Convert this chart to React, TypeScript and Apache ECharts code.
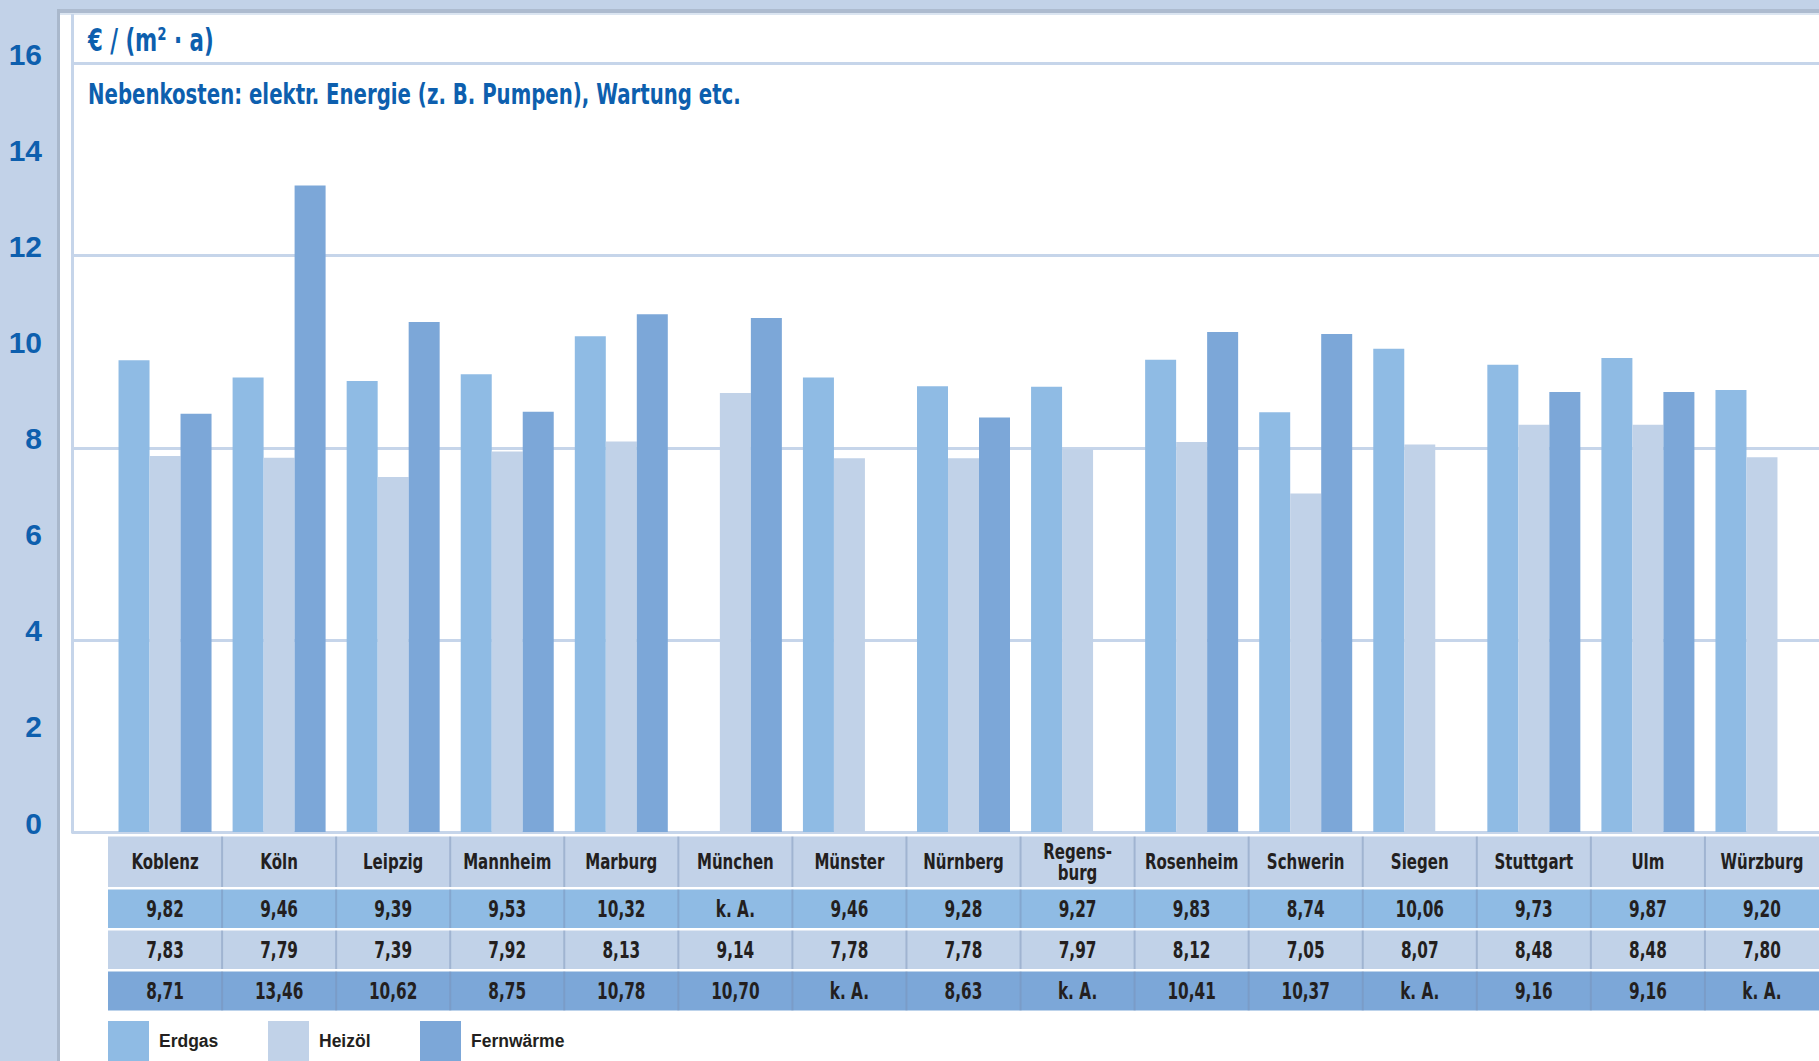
import React, { useEffect, useRef } from 'react';
import * as echarts from 'echarts';

// ---------- data ----------
const cities = ['Koblenz', 'Köln', 'Leipzig', 'Mannheim', 'Marburg', 'München', 'Münster', 'Nürnberg', 'Regensburg', 'Rosenheim', 'Schwerin', 'Siegen', 'Stuttgart', 'Ulm', 'Würzburg'];
const erdgas = [9.82, 9.46, 9.39, 9.53, 10.32, null, 9.46, 9.28, 9.27, 9.83, 8.74, 10.06, 9.73, 9.87, 9.2];
const heizoel = [7.83, 7.79, 7.39, 7.92, 8.13, 9.14, 7.78, 7.78, 7.97, 8.12, 7.05, 8.07, 8.48, 8.48, 7.8];
const fernwaerme = [8.71, 13.46, 10.62, 8.75, 10.78, 10.7, null, 8.63, null, 10.41, 10.37, null, 9.16, 9.16, null];
const seriesNames = ['Erdgas', 'Heizöl', 'Fernwärme'];
const unitTitle = '€ / (m² · a)';
const subtitle = 'Nebenkosten: elektr. Energie (z. B. Pumpen), Wartung etc.';
const missingLabel = 'k. A.';
const yMin = 0;
const yMax = 16;
const labelInterval = 2;
const gridInterval = 4;

// ---------- styles ----------
const W = 1819;
const H = 1061;
const COND = "'DejaVu Sans Condensed', 'DejaVu Sans', sans-serif";
const SANS = "'Liberation Sans', Arial, sans-serif";
const COLORS = ['#8fbbe4', '#c1d2e8', '#7ca7d8'];
const PANEL = '#c2d2e8';
const BLUE_TEXT = '#0d5fae';
const DARK_TEXT = '#231f20';
const GRID_LINE = '#c6d5ea';

const fmt = (v: number | null) => (v == null ? missingLabel : v.toFixed(2).replace('.', ','));
const headerLabel = (v: string) => (v === 'Regensburg' ? 'Regens-\nburg' : v);

export default function App() {
  const ref = useRef<HTMLDivElement>(null);

  useEffect(() => {
    if (!ref.current) return;
    const chart = echarts.init(ref.current, undefined, { renderer: 'svg' });
    const plotBottom = 832;
    const plotTop = 63.5;
    const rows = [erdgas, heizoel, fernwaerme];
    const legendLeft = [108, 268, 420];

    const option: any = {
      animation: false,
      backgroundColor: '#ffffff',
      grid: [
        { left: 108, width: 1715, top: plotTop, bottom: H - plotBottom },
        { left: 72, right: 0, top: plotTop, bottom: H - plotBottom },
      ],
      xAxis: [
        {
          type: 'category',
          gridIndex: 0,
          data: cities,
          axisLine: { show: false },
          axisTick: { show: false },
          axisLabel: { show: false },
        },
        { type: 'value', gridIndex: 1, show: false, min: 0, max: 1 },
      ],
      yAxis: [
        {
          type: 'value',
          gridIndex: 0,
          min: yMin,
          max: yMax,
          interval: labelInterval,
          splitLine: { show: false },
          axisLine: { show: false },
          axisTick: { show: false },
          axisLabel: {
            margin: 66,
            fontFamily: SANS,
            fontSize: 30,
            fontWeight: 'bold',
            color: BLUE_TEXT,
            verticalAlign: 'bottom',
            lineHeight: 18,
          },
        },
        {
          type: 'value',
          gridIndex: 1,
          min: yMin,
          max: yMax,
          interval: gridInterval,
          axisLabel: { show: false },
          axisLine: { show: false },
          axisTick: { show: false },
          splitLine: { show: true, lineStyle: { color: GRID_LINE, width: 3 } },
        },
      ],
      legend: seriesNames.map((n, i) => ({
        data: [n],
        left: legendLeft[i],
        top: 1021,
        itemWidth: 41,
        itemHeight: 40,
        icon: 'rect',
        padding: 0,
        selectedMode: false,
        textStyle: { fontFamily: SANS, fontSize: 17.5, fontWeight: 'bold', color: DARK_TEXT, padding: [0, 0, 0, 5] },
      })),
      series: rows.map((d, i) => ({
        name: seriesNames[i],
        type: 'bar',
        xAxisIndex: 0,
        yAxisIndex: 0,
        data: d,
        barWidth: 31,
        barGap: '0%',
        itemStyle: { color: COLORS[i] },
      })),
    };
    chart.setOption(option);

    const xs = cities.map((c) => chart.convertToPixel({ xAxisIndex: 0 }, c) as number);
    const colW = xs.length > 1 ? xs[1] - xs[0] : 114.3;
    const tableLeft = xs[0] - colW / 2;
    const tableWidth = colW * cities.length;

    const rowBoxes = [
      { y: 836.5, h: 50.5, fill: PANEL },
      { y: 889.5, h: 38.5, fill: COLORS[0] },
      { y: 930.5, h: 38.5, fill: COLORS[1] },
      { y: 971.5, h: 39, fill: COLORS[2] },
    ];
    const headerCenter = 862;
    const rowCenters = [909.5, 950, 991];

    const condText = (text: string, x: number, y: number, size: number, fill: string, align: string, sx: number, lh?: number) => ({
      type: 'text',
      z: 10,
      x,
      y,
      scaleX: sx,
      style: {
        text,
        fontFamily: COND,
        fontSize: size,
        fontWeight: 'bold',
        fill,
        textAlign: align,
        textVerticalAlign: 'middle',
        verticalAlign: 'middle',
        lineHeight: lh,
      },
    });

    const elements: any[] = [
      { type: 'rect', z: -20, shape: { x: 0, y: 0, width: 57, height: H }, style: { fill: PANEL } },
      { type: 'rect', z: -20, shape: { x: 0, y: 0, width: W, height: 10 }, style: { fill: PANEL } },
      { type: 'rect', z: -19, shape: { x: 57, y: 9, width: W - 57, height: 4 }, style: { fill: '#adbbcf' } },
      { type: 'rect', z: -19, shape: { x: 57, y: 9, width: 3, height: H - 9 }, style: { fill: '#a9b8cc' } },
      { type: 'rect', z: -19, shape: { x: 60, y: 13, width: W - 60, height: 2 }, style: { fill: '#dbe5f1' } },
      { type: 'rect', z: -19, shape: { x: 71, y: 14, width: 3, height: plotBottom - 14 + 1.5 }, style: { fill: GRID_LINE } },
      condText(unitTitle, 88, 40, 32, BLUE_TEXT, 'left', 0.74),
      condText(subtitle, 88, 94, 29, BLUE_TEXT, 'left', 0.757),
    ];

    rowBoxes.forEach((r) => {
      elements.push({ type: 'rect', z: -10, shape: { x: tableLeft, y: r.y, width: tableWidth, height: r.h }, style: { fill: r.fill } });
    });
    for (let k = 1; k < cities.length; k++) {
      const x = xs[k - 1] + colW / 2;
      rowBoxes.forEach((r) => {
        elements.push({ type: 'rect', z: -9, shape: { x: x - 1, y: r.y, width: 2, height: r.h }, style: { fill: 'rgba(120,145,182,0.45)' } });
      });
    }
    cities.forEach((c, ci) => {
      elements.push(condText(headerLabel(c), xs[ci], headerCenter, 22, DARK_TEXT, 'center', 0.76, 21));
    });
    rows.forEach((d, ri) => {
      d.forEach((v, ci) => {
        elements.push(condText(fmt(v), xs[ci], rowCenters[ri], 23, DARK_TEXT, 'center', 0.74));
      });
    });

    chart.setOption({ graphic: { elements } });

    return () => chart.dispose();
  }, []);

  return <div ref={ref} style={{ position: 'fixed', left: 0, top: 0, width: W, height: H }} />;
}
